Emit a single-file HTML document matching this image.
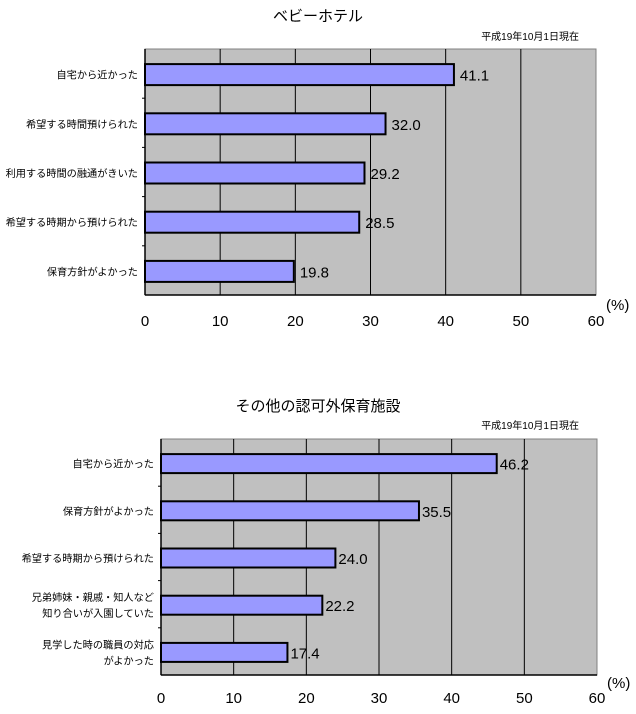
<!DOCTYPE html>
<html><head><meta charset="utf-8">
<style>
body{margin:0;background:#fff;width:636px;height:709px;overflow:hidden}
svg text{font-family:"Liberation Sans","Noto Sans CJK JP",sans-serif;fill:#000}
</style></head>
<body>
<svg id="s" width="636" height="709" xmlns="http://www.w3.org/2000/svg"></svg>
<script>
const cats1 = ["自宅から近かった","希望する時間預けられた","利用する時間の融通がきいた","希望する時期から預けられた","保育方針がよかった"];
const vals1 = [41.1, 32.0, 29.2, 28.5, 19.8];
const cats2 = [["自宅から近かった"],["保育方針がよかった"],["希望する時期から預けられた"],["兄弟姉妹・親戚・知人など","知り合いが入園していた"],["見学した時の職員の対応","がよかった"]];
const vals2 = [46.2, 35.5, 24.0, 22.2, 17.4];
const ticks = [0,10,20,30,40,50,60];
const NS="http://www.w3.org/2000/svg";
const svg=document.getElementById('s');
function mk(tag,attrs,txt){const e=document.createElementNS(NS,tag);for(const k in attrs)e.setAttribute(k,attrs[k]);if(txt!==undefined)e.textContent=txt;svg.appendChild(e);return e;}
function chart(id,title,titleY,dateY,L,R,T,B,cats,vals,barH,valOff,pctY,tickY){
  const x=v=>L+(R-L)*v/60;
  const band=(B-T)/cats.length;
  let e=mk('text',{x:318,y:titleY,'font-size':15,'text-anchor':'middle'},title);
  
  
  e=mk('text',{x:579,y:dateY,'font-size':10,'text-anchor':'end'},'平成19年10月1日現在');
  
  
  e=mk('rect',{x:L,y:T,width:R-L,height:B-T,fill:'#c0c0c0',stroke:'#808080','stroke-width':1});
  
  
  ticks.forEach((t,i)=>{
    if(t>0&&t<60){e=mk('line',{x1:x(t),x2:x(t),y1:T,y2:B,stroke:'#000','stroke-width':1});
      
      }
    e=mk('text',{x:x(t),y:tickY,'font-size':15,'text-anchor':'middle'},String(t));
    
    
  });
  e=mk('line',{x1:L,x2:L,y1:T,y2:B,stroke:'#000','stroke-width':1.5});
  
  
  e=mk('line',{x1:L,x2:R,y1:B,y2:B,stroke:'#000','stroke-width':1.5});
  
  
  for(let i=1;i<cats.length;i++){mk('line',{x1:L-3,x2:L,y1:T+band*i,y2:T+band*i,stroke:'#000'});}
  e=mk('text',{x:R+10,y:pctY,'font-size':15},'(%)');
  
  
  vals.forEach((v,i)=>{
    const cy=T+band*(i+0.5)+1;
    e=mk('rect',{x:L,y:cy-barH/2,width:x(v)-L,height:barH,fill:'#9999ff',stroke:'#000','stroke-width':2});
    
    
    e=mk('text',{x:x(v)+valOff,y:cy+6,'font-size':15},v.toFixed(1));
    
    
    const lines=Array.isArray(cats[i])?cats[i]:[cats[i]];
    lines.forEach((ln,j)=>{
      const ly=cy+4+(j-(lines.length-1)/2)*16;
      e=mk('text',{x:L-7,y:ly,'font-size':10.2,'text-anchor':'end'},ln);
      
      
    });
  });
}
chart('chart1','ベビーホテル',21,40,145,596,49,295,cats1,vals1,21,6,310,326);
chart('chart2','その他の認可外保育施設',411,429,161,597,439,675,cats2,vals2,19,3,688,703);
</script>
</body></html>
